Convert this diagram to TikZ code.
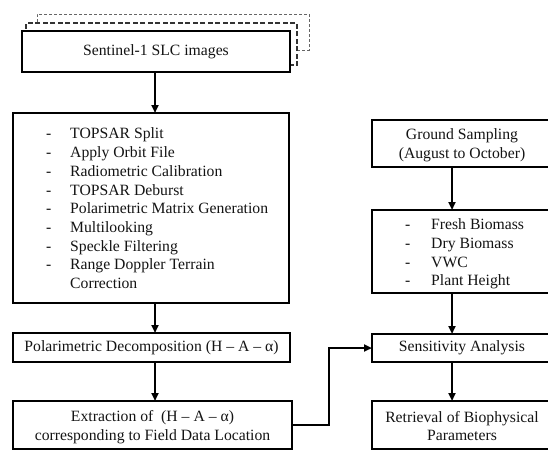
\documentclass[tikz,border=0pt]{standalone}
\usepackage{fontspec}
\setmainfont{Liberation Serif}
\usetikzlibrary{arrows.meta}
\begin{document}
\begin{tikzpicture}[x=1pt,y=-1pt,
  box/.style={draw=black,line width=2pt,fill=white,inner sep=0pt,outer sep=0pt,rectangle},
  txt/.style={inner sep=0pt,text=black!92,align=center,font=\fontsize{15.7}{18.7}\selectfont},
  arr/.style={line width=2pt,-{Triangle[length=8pt,width=7pt]}},
  shadowa/.style={draw=black!80,line width=1.6pt,dash pattern=on 5pt off 2.5pt,fill=white},
  shadowb/.style={draw=black!60,line width=0.8pt,dash pattern=on 3pt off 2pt,fill=white}]
\useasboundingbox (0,0) rectangle (548,450);
\clip (0,0) rectangle (548,450);
% stacked image shadows
\node[shadowb,inner sep=0pt,minimum width=272pt,minimum height=36pt] (shb) at (173,32) {};
\node[shadowa,inner sep=0pt,minimum width=271pt,minimum height=42pt] (sha) at (161.5,44) {};
% left column
\node[box,minimum width=268pt,minimum height=41pt] (sent) at (156,51.5) {};
\node[txt] (senttxt) at (sent.center) {Sentinel-1 SLC images};
\node[box,minimum width=276pt,minimum height=190pt] (proc) at (151,208) {};
\node[txt,anchor=west,align=left] (proctxt) at (46,210) {%
\begin{tabular}{@{}p{24pt}@{}l@{}}
-&TOPSAR Split\\
-&Apply Orbit File\\
-&Radiometric Calibration\\
-&TOPSAR Deburst\\
-&Polarimetric Matrix Generation\\
-&Multilooking\\
-&Speckle Filtering\\
-&Range Doppler Terrain\\
&Correction
\end{tabular}};
\node[box,minimum width=277pt,minimum height=29pt] (pol) at (151.5,347.5) {};
\node[txt] (poltxt) at (pol.center) {Polarimetric Decomposition (H – A – α)};
\node[box,minimum width=279pt,minimum height=47.5pt] (extr) at (152.5,424.75) {};
\node[txt] (extrtxt) at (152.5,427) {Extraction of~ (H – A – α)\\corresponding to Field Data Location};
% right column
\node[box,minimum width=180pt,minimum height=47pt] (grd) at (462,143.5) {};
\node[txt] (grdtxt) at (462,145.5) {Ground Sampling\\(August to October)};
\node[box,minimum width=180pt,minimum height=83pt] (bio) at (462,251.5) {};
\node[txt,anchor=west,align=left] (biotxt) at (405,254) {%
\begin{tabular}{@{}p{26pt}@{}l@{}}
-&Fresh Biomass\\
-&Dry Biomass\\
-&VWC\\
-&Plant Height
\end{tabular}};
\node[box,minimum width=180pt,minimum height=28pt] (sens) at (462,348) {};
\node[txt] (senstxt) at (sens.center) {Sensitivity Analysis};
\node[box,minimum width=180pt,minimum height=47.5pt] (retr) at (462,424.75) {};
\node[txt] (retrtxt) at (462,426) {Retrieval of Biophysical\\Parameters};
% connectors
\coordinate (lx) at (155,0);
\coordinate (rx) at (452,0);
\draw[arr] (sent.south -| lx) -- (proc.north -| lx);
\draw[arr] (proc.south -| lx) -- (pol.north -| lx);
\draw[arr] (pol.south -| lx) -- (extr.north -| lx);
\draw[arr] (grd.south -| rx) -- (bio.north -| rx);
\draw[arr] (bio.south -| rx) -- (sens.north -| rx);
\draw[arr] (sens.south -| rx) -- (retr.north -| rx);
\draw[arr] (extr.east) -- ++(37,0) |- (sens.west);
\end{tikzpicture}
\end{document}
